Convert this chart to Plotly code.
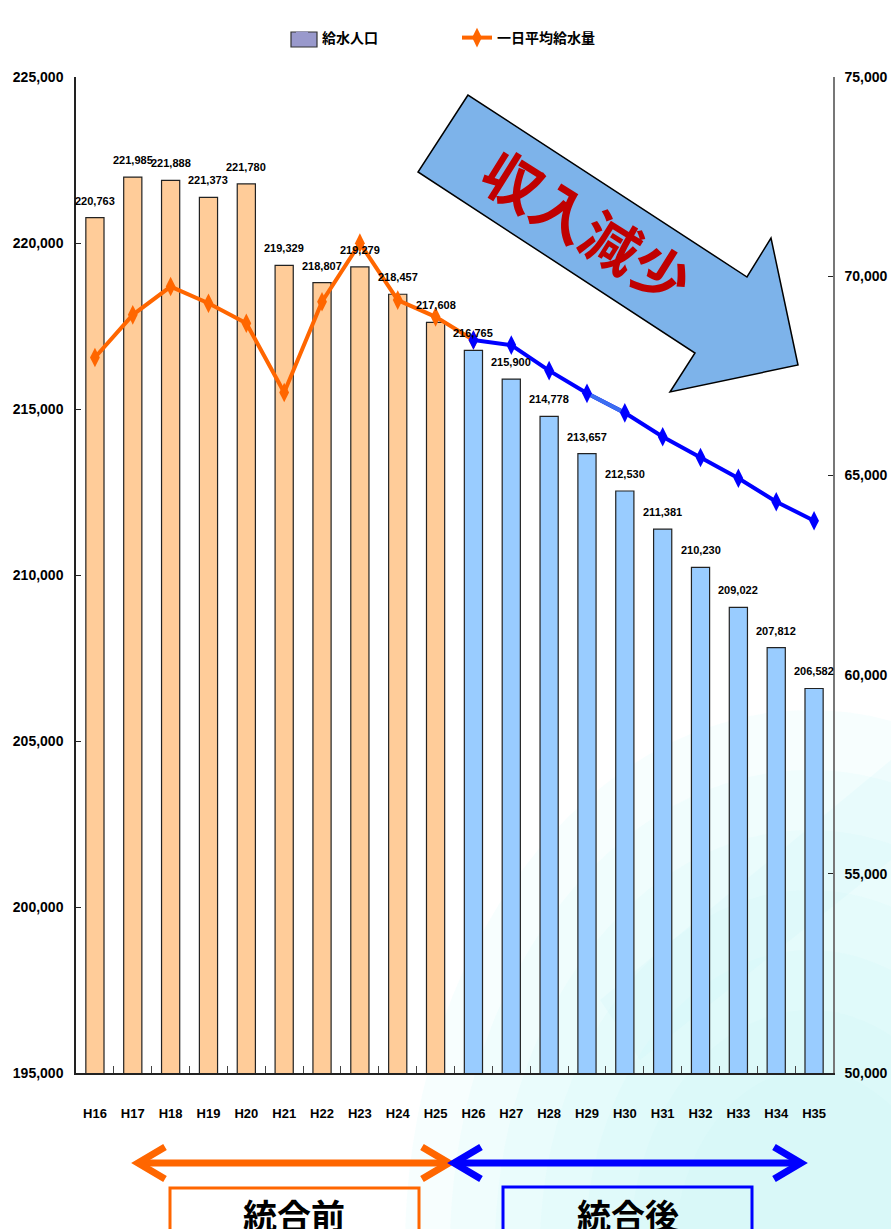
import plotly.graph_objects as go

W, H = 891, 1229

# Fiscal years (Heisei era)
categories = ['H16', 'H17', 'H18', 'H19', 'H20', 'H21', 'H22', 'H23', 'H24', 'H25',
              'H26', 'H27', 'H28', 'H29', 'H30', 'H31', 'H32', 'H33', 'H34', 'H35']
# Population served (left axis)
population = [220763, 221985, 221888, 221373, 221780, 219329, 218807, 219279, 218457, 217608,
              216765, 215900, 214778, 213657, 212530, 211381, 210230, 209022, 207812, 206582]
# Average daily water supply (right axis)
daily_supply = [67960, 69030, 69740, 69320, 68820, 67080, 69360, 70830, 69400, 68980,
                68400, 68270, 67630, 67060, 66570, 65970, 65450, 64930, 64340, 63860]
first_merged_year = 'H26'

ORANGE = '#FF6600'
BLUE = '#0000FF'
PRE_BAR = '#FFCC99'
POST_BAR = '#99CCFF'
LEGEND_BAR = '#9999CC'
NUM_FONT = 'Liberation Sans, Arial, sans-serif'
JP_FONT = 'Noto Sans CJK JP, sans-serif'

split = categories.index(first_merged_year)
bar_colors = [PRE_BAR if i < split else POST_BAR for i in range(len(categories))]


def px(x):
    return x / W


def py(y):
    return 1 - y / H


fig = go.Figure()

fig.add_trace(go.Bar(
    x=categories, y=population, yaxis='y', showlegend=False,
    marker=dict(color=bar_colors, line=dict(color='#222222', width=1.2)),
))
# legend entry for the population bars
fig.add_trace(go.Bar(
    x=[categories[0]], y=[0], name='給水人口', yaxis='y',
    marker=dict(color=LEGEND_BAR, line=dict(width=0)),
))
fig.add_trace(go.Scatter(
    x=categories[:split + 1], y=daily_supply[:split + 1], yaxis='y2',
    mode='lines+markers', name='一日平均給水量',
    line=dict(color=ORANGE, width=4),
    marker=dict(symbol='diamond-tall', size=14, color=ORANGE),
))
fig.add_trace(go.Scatter(
    x=categories[split:], y=daily_supply[split:], yaxis='y2', mode='lines',
    line=dict(color=BLUE, width=4), showlegend=False,
))
fig.add_trace(go.Scatter(
    x=categories[13:15], y=daily_supply[13:15], yaxis='y2', mode='lines',
    line=dict(color='#3C6EF0', width=4), showlegend=False,
))
fig.add_trace(go.Scatter(
    x=categories[split:], y=daily_supply[split:], yaxis='y2', mode='markers',
    marker=dict(symbol='diamond-tall', size=14, color=BLUE), showlegend=False,
))

annotations = []
for c, v in zip(categories, population):
    annotations.append(dict(
        x=c, y=v, xref='x', yref='y', text=f'{v:,}', showarrow=False,
        yanchor='bottom', yshift=9,
        font=dict(family=NUM_FONT, size=11, color='#000000', weight='bold'),
    ))

# "収入減少" banner arrow
annotations.append(dict(
    x=px(588), y=py(225), xref='paper', yref='paper', text='収入減少',
    showarrow=False, textangle=32, xanchor='center', yanchor='middle',
    font=dict(family=JP_FONT, size=58, color='#C00000', weight='bold'),
))
# period boxes
annotations.append(dict(
    x=px(294), y=py(1188), xref='paper', yref='paper', text='統合前',
    showarrow=False, xanchor='center', yanchor='top',
    font=dict(family=JP_FONT, size=34, color='#000000', weight='bold'),
))
annotations.append(dict(
    x=px(628), y=py(1188), xref='paper', yref='paper', text='統合後',
    showarrow=False, xanchor='center', yanchor='top',
    font=dict(family=JP_FONT, size=34, color='#000000', weight='bold'),
))


def path(points, close=True):
    s = 'M ' + ' L '.join(f'{px(x):.5f},{py(y):.5f}' for x, y in points)
    return s + (' Z' if close else '')


shapes = []
# soft cyan haze in the lower right of the page
for r in [540, 480, 420, 360, 300, 240, 180]:
    cx, cy = 810, 1250
    shapes.append(dict(
        type='circle', xref='paper', yref='paper', layer='below',
        x0=px(cx - r * 0.75), x1=px(cx + r * 0.75), y0=py(cy + r), y1=py(cy - r),
        fillcolor='rgb(195,245,250)', opacity=0.14, line=dict(width=0),
    ))
# faint streak on the right edge
shapes.append(dict(
    type='path', xref='paper', yref='paper', layer='below',
    path=path([(600, 1000), (891, 760), (891, 860), (640, 1060)]),
    fillcolor='rgb(200,245,250)', opacity=0.18, line=dict(width=0),
))

# wide swatch behind the population legend marker
shapes.append(dict(
    type='rect', xref='paper', yref='paper',
    x0=px(291), x1=px(317), y0=py(47), y1=py(32),
    fillcolor=LEGEND_BAR, line=dict(color='#333333', width=1.2),
))

arrow_pts = [(468, 95), (418, 172), (695, 353), (670, 392), (798, 365), (771, 238), (747, 277)]
shapes.append(dict(
    type='path', xref='paper', yref='paper', path=path(arrow_pts),
    fillcolor='#7DB3EA', line=dict(color='#000000', width=1.5),
))


def double_arrow(x0, x1, y, color):
    out = []
    out.append(dict(type='path', xref='paper', yref='paper',
                    path=path([(x0 + 3, y), (x1 - 3, y)], close=False),
                    line=dict(color=color, width=7)))
    out.append(dict(type='path', xref='paper', yref='paper',
                    path=path([(x0 + 29, y - 16), (x0 + 2, y), (x0 + 29, y + 16)], close=False),
                    line=dict(color=color, width=7)))
    out.append(dict(type='path', xref='paper', yref='paper',
                    path=path([(x1 - 29, y - 16), (x1 - 2, y), (x1 - 29, y + 16)], close=False),
                    line=dict(color=color, width=7)))
    return out


shapes += double_arrow(136, 451, 1163, ORANGE)
shapes += double_arrow(452, 803, 1163, BLUE)
shapes.append(dict(type='rect', xref='paper', yref='paper',
                   x0=px(170), x1=px(419), y0=py(1240), y1=py(1188),
                   line=dict(color=ORANGE, width=3)))
shapes.append(dict(type='rect', xref='paper', yref='paper',
                   x0=px(503), x1=px(752), y0=py(1240), y1=py(1187),
                   line=dict(color=BLUE, width=3)))

y_tick_font = dict(family=NUM_FONT, size=14, color='#000000', weight='bold')
x_tick_font = dict(family=NUM_FONT, size=13, color='#000000', weight='bold')

fig.update_layout(
    template='none',
    width=W, height=H, autosize=False,
    margin=dict(l=0, r=0, t=0, b=0, pad=0),
    paper_bgcolor='#FFFFFF', plot_bgcolor='rgba(0,0,0,0)',
    barmode='overlay', bargap=0.52,
    showlegend=True,
    legend=dict(
        orientation='h', x=px(282), xanchor='left', y=py(22), yanchor='top',
        entrywidth=130, entrywidthmode='pixels', bgcolor='rgba(0,0,0,0)',
        font=dict(family=JP_FONT, size=14, color='#000000', weight='bold'),
    ),
    xaxis=dict(
        domain=[px(76), px(833)], type='category', range=[-0.5, 19.5],
        showline=True, linecolor='#222222', linewidth=1.5, mirror=False,
        ticks='inside', tickson='boundaries', ticklen=7, tickcolor='#444444',
        tickfont=x_tick_font, tickangle=0, ticklabelstandoff=28,
        showgrid=False, automargin=False,
    ),
    yaxis=dict(
        domain=[py(1073), py(77)], range=[195000, 225000], dtick=5000, tickformat=',',
        showline=True, linecolor='#222222', linewidth=1.5,
        ticks='inside', ticklen=5, tickcolor='#222222',
        tickfont=y_tick_font, ticklabelstandoff=8,
        showgrid=False, zeroline=False, automargin=False,
    ),
    yaxis2=dict(
        overlaying='y', side='right', range=[50000, 75000], dtick=5000, tickformat=',',
        showline=True, linecolor='#777777', linewidth=1.5,
        ticks='inside', ticklen=5, tickcolor='#222222',
        tickfont=y_tick_font, ticklabelstandoff=7,
        showgrid=False, zeroline=False, automargin=False,
    ),
    annotations=annotations,
    shapes=shapes,
)

fig.write_html('out.html')
